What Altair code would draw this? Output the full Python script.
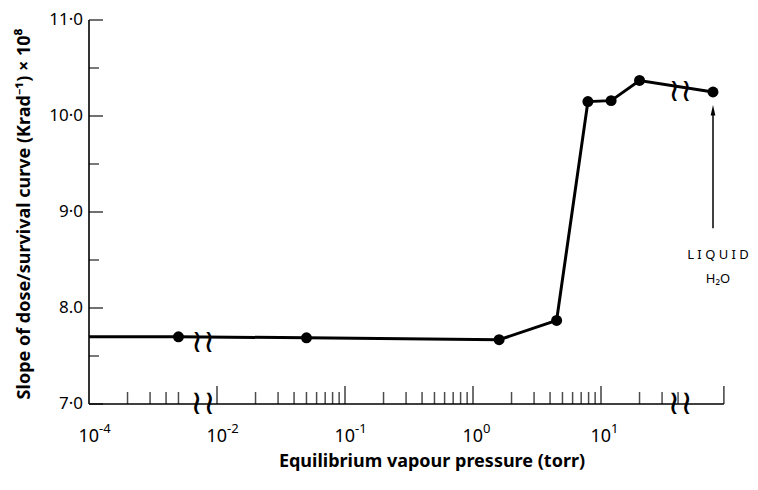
import math
import altair as alt
import pandas as pd

# ---------------- data ----------------
PRESSURE_TORR = [1e-4, 5e-4, 5e-2, 1.6, 4.5, 7.9, 12.0, 20.0]
SLOPE = [7.70, 7.70, 7.69, 7.67, 7.87, 10.15, 10.16, 10.37]
HAS_MARKER = [False, True, True, True, True, True, True, True]
LIQUID_SLOPE = 10.25

X_LABEL_VALUES = [1e-4, 1e-2, 1e-1, 1.0, 10.0]
X_LABEL_EXPONENTS = ["-4", "-2", "-1", "0", "1"]
X_MINOR_TICKS = [2e-4, 3e-4, 4e-4, 5e-4,
                 0.02, 0.03, 0.04, 0.05, 0.06, 0.07, 0.08, 0.09,
                 0.2, 0.3, 0.4, 0.5, 0.6, 0.7, 0.8, 0.9,
                 2, 3, 4, 5, 6, 7, 8, 9,
                 20, 30, 40]
X_MAJOR_TICKS = [1e-2, 1e-1, 1.0, 10.0]

Y_MAJOR = [7, 8, 9, 10, 11]
Y_LABELS = ["7·0", "8.0", "9·0", "10·0", "11·0"]
Y_MINOR = [7.5, 8.5, 9.5, 10.5]

# ---------------- broken-axis layout (display units = decades) ----------------
X_DOMAIN = [-4.0, 1.0]
LIQUID_U = 0.875       # liquid water point, placed after the right break
END_U = 0.96           # end of the x axis
BREAK_U = [-3.11, 0.62]
FONT = "Noto Sans"


def u_of(p):
    lp = math.log10(p)
    return lp if lp < -2.5 else lp - 1.0   # one decade removed at the left break


xs = alt.Scale(domain=X_DOMAIN, nice=False, zero=False)
ys = alt.Scale(domain=[7, 11], nice=False, zero=False)

pts = pd.DataFrame({
    "u": [u_of(p) for p in PRESSURE_TORR] + [LIQUID_U],
    "slope": SLOPE + [LIQUID_SLOPE],
    "marker": HAS_MARKER + [True],
    "order": list(range(len(SLOPE) + 1)),
})

axes_df = pd.DataFrame({"x0": [-4.0, -4.0], "x1": [END_U, -4.0],
                        "y0": [7.0, 7.0], "y1": [7.0, 11.0]})
minor_df = pd.DataFrame({"u": [u_of(p) for p in X_MINOR_TICKS], "y": 7.0})
major_df = pd.DataFrame({"u": [u_of(p) for p in X_MAJOR_TICKS] + [END_U], "y": 7.0})
ymaj_df = pd.DataFrame({"x": -4.0, "v": Y_MAJOR, "label": Y_LABELS})
ymin_df = pd.DataFrame({"x": -4.0, "v": Y_MINOR})
xlab_df = pd.DataFrame({"u": [u_of(p) for p in X_LABEL_VALUES],
                        "base": "10", "exp": X_LABEL_EXPONENTS})
brk_axis = pd.DataFrame({"u": BREAK_U, "y": [7.0, 7.0]})
brk_line = pd.DataFrame({"u": BREAK_U, "y": [SLOPE[1], (SLOPE[-1] + LIQUID_SLOPE) / 2]})
arrow_df = pd.DataFrame({"u": [LIQUID_U], "y0": [8.83], "y1": [10.02], "tip": [10.06]})
liq_df = pd.DataFrame({"u": [LIQUID_U, LIQUID_U], "y": [8.55, 8.30],
                       "t": ["L I Q U I D", "H₂O"]})

X = lambda f: alt.X(f, type="quantitative", scale=xs, axis=None)
Y = lambda f: alt.Y(f, type="quantitative", scale=ys, axis=None)

axes = alt.Chart(axes_df).mark_rule(color="black", strokeWidth=1.6).encode(
    x=X("x0"), x2="x1", y=Y("y0"), y2="y1")

minor = alt.Chart(minor_df).mark_tick(orient="vertical", size=12, thickness=1.5,
                                      yOffset=-6, color="black").encode(x=X("u"), y=Y("y"))
major = alt.Chart(major_df).mark_tick(orient="vertical", size=18, thickness=1.6,
                                      yOffset=-9, color="black").encode(x=X("u"), y=Y("y"))
ymaj = alt.Chart(ymaj_df).mark_tick(orient="horizontal", size=14, thickness=1.6,
                                    xOffset=7, color="black").encode(x=X("x"), y=Y("v"))
ymin = alt.Chart(ymin_df).mark_tick(orient="horizontal", size=10, thickness=1.5,
                                    xOffset=5, color="black").encode(x=X("x"), y=Y("v"))
ylab = alt.Chart(ymaj_df).mark_text(align="right", baseline="middle", dx=-6,
                                    fontSize=17, font=FONT, color="black").encode(
    x=X("x"), y=Y("v"), text="label:N")

xbase = alt.Chart(xlab_df).mark_text(align="right", baseline="alphabetic", dx=10,
                                     fontSize=18, font=FONT, color="black").encode(
    x=X("u"), y=alt.value(422), text="base:N")
xexp = alt.Chart(xlab_df).mark_text(align="left", baseline="alphabetic", dx=10,
                                    fontSize=13, font=FONT, color="black").encode(
    x=X("u"), y=alt.value(413), text="exp:N")

line = alt.Chart(pts).mark_line(color="black", strokeWidth=3).encode(
    x=X("u"), y=Y("slope"), order="order:Q")
dots = alt.Chart(pts).transform_filter("datum.marker").mark_circle(
    color="black", opacity=1, size=120).encode(x=X("u"), y=Y("slope"))

brk_a = alt.Chart(brk_axis).mark_text(text="≀≀", fontSize=34, font="DejaVu Sans",
                                      color="black", baseline="middle").encode(
    x=X("u"), y=Y("y"))
brk_l = alt.Chart(brk_line).mark_text(text="≀≀", fontSize=32, font="DejaVu Sans",
                                      color="black", baseline="middle", dy=5).encode(
    x=X("u"), y=Y("y"))

arrow = alt.Chart(arrow_df).mark_rule(color="black", strokeWidth=1.5).encode(
    x=X("u"), y=Y("y0"), y2="y1")
head = alt.Chart(arrow_df).mark_point(shape="M -0.45 1 L 0 -1 L 0.45 1 Z", filled=True,
                                      opacity=1, color="black", size=110).encode(
    x=X("u"), y=Y("tip"))
liq = alt.Chart(liq_df).mark_text(fontSize=13, font=FONT, color="black",
                                  baseline="middle", dx=5).encode(
    x=X("u"), y=Y("y"), text="t:N")

xtitle = alt.Chart(pd.DataFrame({"t": ["Equilibrium vapour pressure (torr)"]})).mark_text(
    fontSize=18, fontWeight="bold", font=FONT, color="black", baseline="middle").encode(
    x=alt.value(343), y=alt.value(442), text="t:N")
ytitle = alt.Chart(pd.DataFrame({"t": ["Slope of dose/survival curve (Krad⁻¹) × 10⁸"]})).mark_text(
    fontSize=18, fontWeight="bold", font=FONT, color="black", angle=270,
    baseline="middle").encode(
    x=alt.value(-64), y=alt.value(194), text="t:N")

chart = alt.layer(axes, minor, major, ymaj, ymin, ylab, xbase, xexp, line, dots,
                  brk_a, brk_l, arrow, head, liq, xtitle, ytitle).properties(
    width=640, height=384,
    autosize=alt.AutoSizeParams(type="none"),
    padding={"left": 81, "top": 12, "right": 21, "bottom": 78},
).configure_view(stroke=None)

chart.save("out.html", embed_options={"renderer": "svg", "actions": False})
